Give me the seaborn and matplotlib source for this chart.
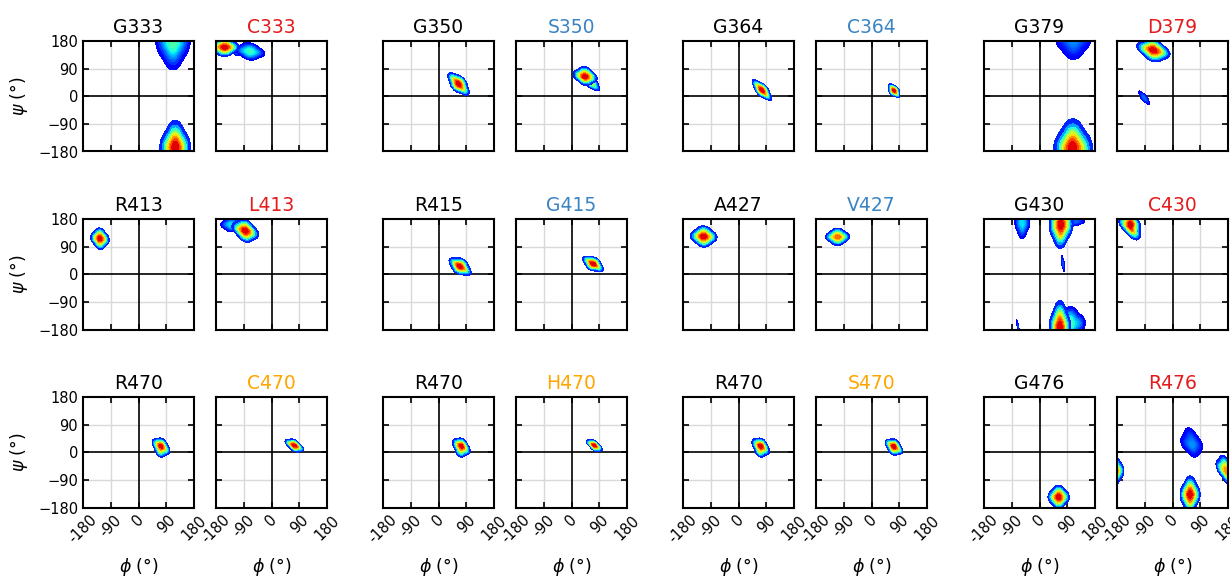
import numpy as np
import matplotlib
matplotlib.use("Agg")
import matplotlib.pyplot as plt
from matplotlib.colors import ListedColormap
import seaborn as sns

# ---------------- data ----------------
titles = ["G333", "C333", "G350", "S350", "G364", "C364", "G379", "D379",
          "R413", "L413", "R415", "G415", "A427", "V427", "G430", "C430",
          "R470", "C470", "R470", "H470", "R470", "S470", "G476", "R476"]

RED, BLUE, ORANGE, BLACK = "#e41a1c", "#3a84c4", "#ffa500", "black"
title_colors = [BLACK, RED, BLACK, BLUE, BLACK, BLUE, BLACK, RED,
                BLACK, RED, BLACK, BLUE, BLACK, BLUE, BLACK, RED,
                BLACK, ORANGE, BLACK, ORANGE, BLACK, ORANGE, BLACK, RED]

# density clusters: panel index, phi samples, psi samples, relative peak height
cl_panel = [0, 0,
            1, 1, 1,
            2, 3, 3, 4, 5,
            6, 6,
            7, 7,
            8, 9, 9, 10, 11, 12, 13,
            14, 14, 14, 14, 14, 14, 14,
            15,
            16, 17, 18, 19, 20, 21, 22,
            23, 23, 23, 23]
cl_phi = [[119, 96, 142, 119, 119], [112, 86, 138, 112, 112],
          [-152, -174, -130, -152, -152], [-70, -92, -48, -70, -70], [-112, -100, -124, -112, -112],
          [65, 50, 80, 73, 57], [44, 26, 62, 44, 44], [68, 58, 78, 74, 62],
          [76, 62, 90, 82, 70], [73, 66, 81, 79, 67],
          [110, 84, 136, 110, 110], [108, 80, 138, 108, 108],
          [-62, -87, -37, -62, -62], [-92, -100, -84, -89, -95],
          [-125, -139, -111, -125, -125], [-130, -146, -114, -130, -130], [-85, -105, -65, -85, -85],
          [70, 54, 86, 76, 64], [70, 55, 85, 76, 64], [-113, -133, -93, -113, -113], [-110, -128, -92, -110, -110],
          [-56, -67, -45, -56, -56], [70, 52, 88, 70, 68], [115, 100, 130, 115, 115], [76, 74, 78, 78, 74],
          [66, 50, 82, 66, 66], [100, 85, 125, 100, 100], [-70, -72, -68, -69, -71],
          [-138, -156, -122, -138, -124, -138],
          [72, 60, 86, 76, 70], [74, 60, 88, 74, 74], [73, 61, 87, 77, 71], [74, 62, 86, 74, 74],
          [71, 59, 85, 75, 69], [72, 60, 86, 76, 70], [62, 46, 78, 62, 62],
          [62, 46, 78, 58, 66], [57, 42, 72, 57, 57], [-188, -202, -174, -188, -188], [172, 158, 186, 170, 178]]
cl_psi = [[-168, -168, -168, -128, -213], [185, 185, 185, 142, 238],
          [160, 160, 160, 174, 146], [146, 149, 143, 159, 133], [150, 146, 154, 158, 142],
          [40, 56, 24, 48, 32], [65, 68, 62, 80, 52], [40, 50, 30, 44, 36],
          [20, 35, 5, 26, 14], [18, 28, 8, 22, 14],
          [185, 185, 185, 155, 215], [-170, -170, -170, -126, -216],
          [150, 156, 144, 167, 133], [-5, 5, -15, -2, -8],
          [116, 118, 114, 132, 100], [162, 162, 162, 173, 151], [142, 148, 136, 159, 125],
          [26, 36, 14, 36, 16], [34, 44, 24, 42, 26], [123, 124, 122, 139, 107], [122, 122, 122, 135, 109],
          [168, 168, 168, 144, 192], [160, 162, 162, 195, 125], [172, 172, 172, 178, 166], [35, 47, 23, 36, 34],
          [-172, -172, -172, -132, -212], [-160, -160, -160, -135, -185], [-170, -160, -180, -170, -172],
          [163, 166, 163, 178, 135, 148],
          [18, 26, 10, 28, 2], [22, 28, 16, 31, 13], [18, 26, 10, 28, 2], [22, 28, 16, 30, 14],
          [18, 26, 10, 28, 2], [18, 26, 10, 28, 6], [-146, -146, -146, -128, -164],
          [30, 30, 26, 54, 10], [-138, -138, -138, -110, -166], [-60, -60, -60, -38, -82], [-58, -52, -64, -36, -80]]
cl_peak = [1.0, 0.42,
           1.0, 0.38, 0.2,
           1.0, 1.0, 0.5, 1.0, 1.0,
           0.2, 1.0,
           1.0, 0.15,
           1.0, 0.3, 1.0, 1.0, 1.0, 1.0, 0.85,
           0.3, 1.0, 0.15, 0.12, 1.0, 0.45, 0.1,
           1.0,
           1.0, 1.0, 1.0, 1.0, 1.0, 1.0, 1.0,
           0.2, 1.0, 0.95, 0.8]

axis_ticks = [-180, -90, 0, 90, 180]
x_tick_labels = ["-180", "-90", "0", "90", "180"]
y_tick_labels = ["\u2212180", "\u221290", "0", "90", "180"]

# ---------------- style ----------------
sns.set_style("white")
plt.rcParams["font.family"] = ["DejaVu Sans"]
plt.rcParams["mathtext.fontset"] = "dejavusans"

fig = plt.figure(figsize=(12.3, 5.76), dpi=100)
col_left = [83, 216, 383, 516, 683, 816, 984, 1117]
row_top = [41, 219, 397]
W, H = 111, 110.5

axes = []
for i in range(24):
    r, c = divmod(i, 8)
    ax = fig.add_axes([col_left[c] / 1230, 1 - (row_top[r] + H) / 576, W / 1230, H / 576])
    axes.append(ax)

jet = plt.get_cmap("jet")
# weaker clusters first so stronger cores are painted on top
order = sorted(range(len(cl_panel)), key=lambda k: cl_peak[k])
for k in order:
    ax = axes[cl_panel[k]]
    peak = cl_peak[k]
    cmap = ListedColormap(jet(np.linspace(0.1, 0.1 + 0.85 * peak, 256)))
    sns.kdeplot(x=cl_phi[k], y=cl_psi[k], fill=True, levels=10, thresh=0.05,
                bw_adjust=1.12, cmap=cmap, ax=ax, zorder=2)

for i, ax in enumerate(axes):
    r, c = divmod(i, 8)
    ax.set_xlim(-180, 180)
    ax.set_ylim(-180, 180)
    for v in (-90, 90):
        ax.axvline(v, color="#d9d9d9", lw=1.0, zorder=0.5)
        ax.axhline(v, color="#d9d9d9", lw=1.0, zorder=0.5)
    ax.axvline(0, color="black", lw=1.2, zorder=0.6)
    ax.axhline(0, color="black", lw=1.2, zorder=0.6)
    ax.set_xticks(axis_ticks)
    ax.set_yticks(axis_ticks)
    ax.tick_params(direction="in", top=True, right=True, bottom=True, left=True,
                   length=4, width=1.2, color="black", labelsize=10.5, labelcolor="black")
    for s in ax.spines.values():
        s.set_linewidth(1.5)
        s.set_color("black")
    ax.set_title(titles[i], color=title_colors[i], fontsize=13.5)
    if r == 2:
        ax.set_xticklabels(x_tick_labels, rotation=45)
        ax.set_xlabel(r"$\phi$ (°)", fontsize=12.5, labelpad=7, color="black")
    else:
        ax.set_xticklabels([])
        ax.set_xlabel("")
    if c == 0:
        ax.set_yticklabels(y_tick_labels)
        ax.set_ylabel(r"$\psi$ (°)", fontsize=12.5, labelpad=6, color="black")
    else:
        ax.set_yticklabels([])
        ax.set_ylabel("")

fig.savefig("out.png", dpi=100)
